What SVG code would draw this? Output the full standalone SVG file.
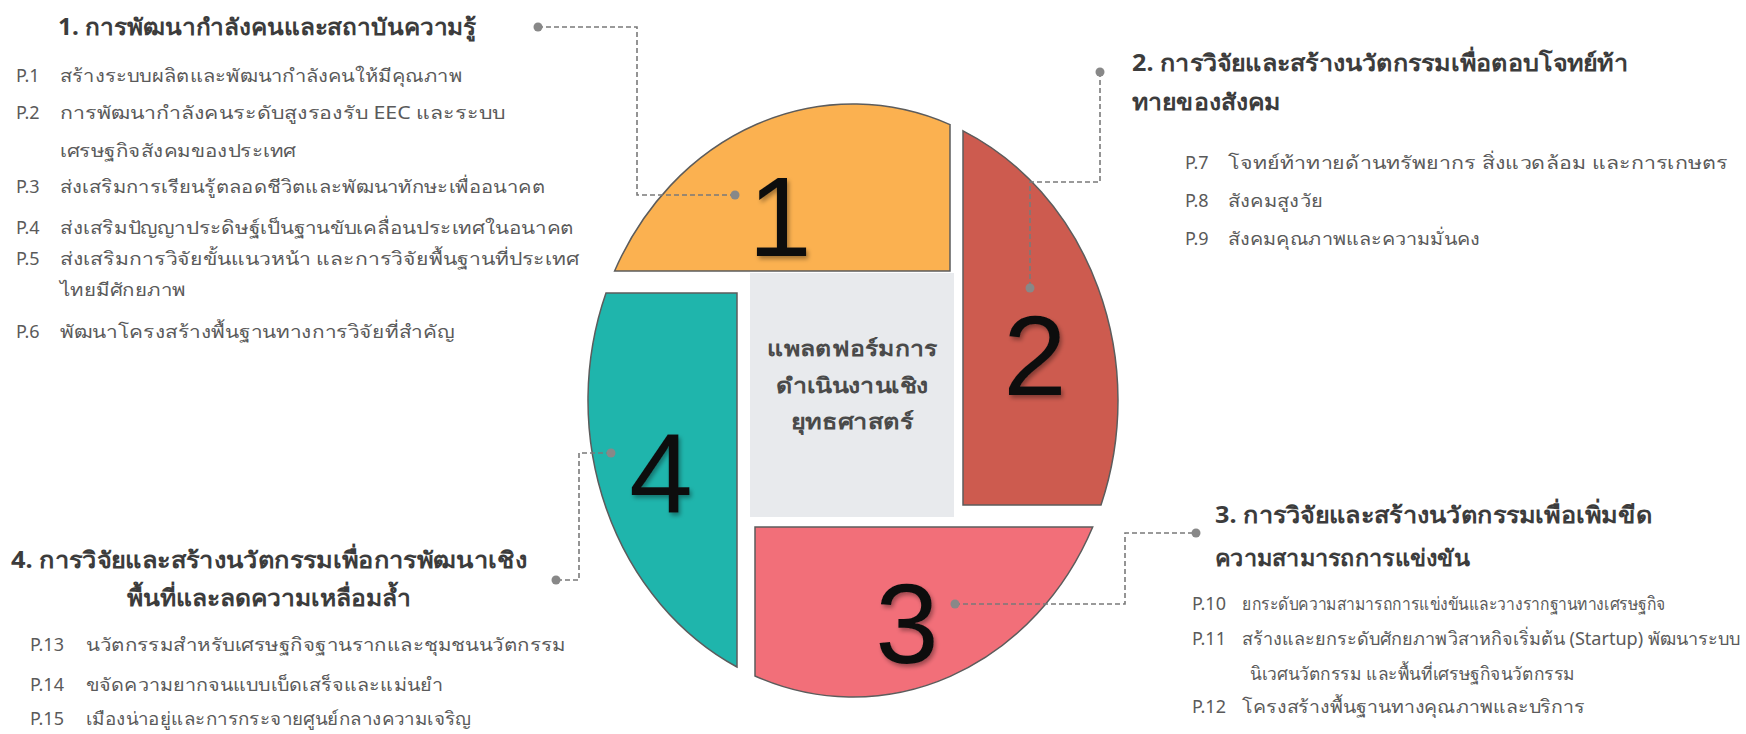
<svg xmlns="http://www.w3.org/2000/svg" width="1746" height="734" viewBox="0 0 1746 734">
<defs>
<style>
.t{font-family:"Noto Sans","DejaVu Sans",sans-serif;font-size:23px;font-weight:bold;fill:#3c3c3c}
.b{font-family:"Noto Sans","DejaVu Sans",sans-serif;font-size:18px;fill:#5a5a5a}
.c{font-family:"Noto Sans","DejaVu Sans",sans-serif;font-size:21px;font-weight:bold;fill:#4a4a4a;text-anchor:middle}
.n{font-family:"Liberation Sans",Arial,sans-serif;font-size:114px;fill:#111;text-anchor:middle;filter:url(#sh)}
.piece{stroke:#5c5c5c;stroke-width:1.5}
.conn{fill:none;stroke:#7a7a7a;stroke-width:1.6;stroke-dasharray:5 3}
.dot{fill:#888}
</style>
<filter id="sh" x="-20%" y="-20%" width="150%" height="150%">
<feDropShadow dx="2" dy="3" stdDeviation="2" flood-color="#000" flood-opacity="0.35"/>
</filter>
</defs>
<rect width="1746" height="734" fill="#fff"/>

<g id="node-center">
<rect x="750" y="273" width="204" height="244" fill="#e8eaed"/>
<text class="c" x="852" y="356" textLength="170" lengthAdjust="spacingAndGlyphs">แพลตฟอร์มการ</text>
<text class="c" x="852" y="393" textLength="152" lengthAdjust="spacingAndGlyphs">ดำเนินงานเชิง</text>
<text class="c" x="852" y="429" textLength="123" lengthAdjust="spacingAndGlyphs">ยุทธศาสตร์</text>
</g>

<g id="node-1">
<path class="piece" fill="#fbb150" d="M614.6 271 L950 271 L950 124.6 A265 296.5 0 0 0 614.6 271 Z"/>
<text class="n" x="780" y="256">1</text>
</g>
<g id="node-2">
<path class="piece" fill="#cd5b4f" d="M963 130.8 L963 505 L1101 505 A265 296.5 0 0 0 963 130.8 Z"/>
<text class="n" x="1035" y="395">2</text>
</g>
<g id="node-3">
<path class="piece" fill="#f26f79" d="M755 527 L1092.7 527 A265 296.5 0 0 1 755 676 Z"/>
<text class="n" x="907" y="663">3</text>
</g>
<g id="node-4">
<path class="piece" fill="#1fb5ac" d="M606 293 L737 293 L737 667 A265 296.5 0 0 1 606 293 Z"/>
<text class="n" x="661" y="513">4</text>
</g>

<g id="connectors">
<polyline class="conn" points="538,27 637,27 637,195 735,195"/>
<polyline class="conn" points="1100,72 1100,182 1030,182 1030,288"/>
<polyline class="conn" points="955,604 1125,604 1125,533 1196,533"/>
<polyline class="conn" points="611,453 579,453 579,580 556,580"/>
<circle class="dot" cx="538" cy="27" r="4.5"/>
<circle class="dot" cx="735" cy="195" r="4.5"/>
<circle class="dot" cx="1100" cy="72" r="4.5"/>
<circle class="dot" cx="1030" cy="288" r="4.5"/>
<circle class="dot" cx="955" cy="604" r="4.5"/>
<circle class="dot" cx="1196" cy="533" r="4.5"/>
<circle class="dot" cx="611" cy="453" r="4.5"/>
<circle class="dot" cx="556" cy="580" r="4.5"/>
</g>

<g id="text-1">
<text class="t" x="58" y="35" textLength="418" lengthAdjust="spacingAndGlyphs">1. การพัฒนากำลังคนและสถาบันความรู้</text>
<text class="b" y="82"><tspan x="16">P.1</tspan><tspan x="60" textLength="402" lengthAdjust="spacingAndGlyphs">สร้างระบบผลิตและพัฒนากำลังคนให้มีคุณภาพ</tspan></text>
<text class="b" y="119"><tspan x="16">P.2</tspan><tspan x="60" textLength="445" lengthAdjust="spacingAndGlyphs">การพัฒนากำลังคนระดับสูงรองรับ EEC และระบบ</tspan></text>
<text class="b" x="60" y="157" textLength="236" lengthAdjust="spacingAndGlyphs">เศรษฐกิจสังคมของประเทศ</text>
<text class="b" y="193"><tspan x="16">P.3</tspan><tspan x="60" textLength="485" lengthAdjust="spacingAndGlyphs">ส่งเสริมการเรียนรู้ตลอดชีวิตและพัฒนาทักษะเพื่ออนาคต</tspan></text>
<text class="b" y="234"><tspan x="16">P.4</tspan><tspan x="60" textLength="514" lengthAdjust="spacingAndGlyphs">ส่งเสริมปัญญาประดิษฐ์เป็นฐานขับเคลื่อนประเทศในอนาคต</tspan></text>
<text class="b" y="265"><tspan x="16">P.5</tspan><tspan x="60" textLength="519" lengthAdjust="spacingAndGlyphs">ส่งเสริมการวิจัยขั้นแนวหน้า และการวิจัยพื้นฐานที่ประเทศ</tspan></text>
<text class="b" x="60" y="296" textLength="126" lengthAdjust="spacingAndGlyphs">ไทยมีศักยภาพ</text>
<text class="b" y="338"><tspan x="16">P.6</tspan><tspan x="60" textLength="394" lengthAdjust="spacingAndGlyphs">พัฒนาโครงสร้างพื้นฐานทางการวิจัยที่สำคัญ</tspan></text>
</g>

<g id="text-2">
<text class="t" x="1132" y="71" textLength="496" lengthAdjust="spacingAndGlyphs">2. การวิจัยและสร้างนวัตกรรมเพื่อตอบโจทย์ท้า</text>
<text class="t" x="1132" y="110" textLength="148" lengthAdjust="spacingAndGlyphs">ทายของสังคม</text>
<text class="b" y="169"><tspan x="1185">P.7</tspan><tspan x="1228" textLength="500" lengthAdjust="spacingAndGlyphs">โจทย์ท้าทายด้านทรัพยากร สิ่งแวดล้อม และการเกษตร</tspan></text>
<text class="b" y="207"><tspan x="1185">P.8</tspan><tspan x="1228" textLength="95" lengthAdjust="spacingAndGlyphs">สังคมสูงวัย</tspan></text>
<text class="b" y="245"><tspan x="1185">P.9</tspan><tspan x="1228" textLength="252" lengthAdjust="spacingAndGlyphs">สังคมคุณภาพและความมั่นคง</tspan></text>
</g>

<g id="text-3">
<text class="t" x="1215" y="523" textLength="437" lengthAdjust="spacingAndGlyphs">3. การวิจัยและสร้างนวัตกรรมเพื่อเพิ่มขีด</text>
<text class="t" x="1215" y="566" textLength="255" lengthAdjust="spacingAndGlyphs">ความสามารถการแข่งขัน</text>
<text class="b" y="610"><tspan x="1192">P.10</tspan><tspan x="1242" textLength="424" lengthAdjust="spacingAndGlyphs">ยกระดับความสามารถการแข่งขันและวางรากฐานทางเศรษฐกิจ</tspan></text>
<text class="b" y="645"><tspan x="1192">P.11</tspan><tspan x="1242" textLength="498" lengthAdjust="spacingAndGlyphs">สร้างและยกระดับศักยภาพวิสาหกิจเริ่มต้น (Startup) พัฒนาระบบ</tspan></text>
<text class="b" x="1250" y="680" textLength="325" lengthAdjust="spacingAndGlyphs">นิเวศนวัตกรรม และพื้นที่เศรษฐกิจนวัตกรรม</text>
<text class="b" y="713"><tspan x="1192">P.12</tspan><tspan x="1242" textLength="343" lengthAdjust="spacingAndGlyphs">โครงสร้างพื้นฐานทางคุณภาพและบริการ</tspan></text>
</g>

<g id="text-4">
<text class="t" x="11" y="568" textLength="516" lengthAdjust="spacingAndGlyphs">4. การวิจัยและสร้างนวัตกรรมเพื่อการพัฒนาเชิง</text>
<text class="t" x="127" y="606" textLength="284" lengthAdjust="spacingAndGlyphs">พื้นที่และลดความเหลื่อมล้ำ</text>
<text class="b" y="651"><tspan x="30">P.13</tspan><tspan x="86" textLength="480" lengthAdjust="spacingAndGlyphs">นวัตกรรมสำหรับเศรษฐกิจฐานรากและชุมชนนวัตกรรม</tspan></text>
<text class="b" y="691"><tspan x="30">P.14</tspan><tspan x="86" textLength="357" lengthAdjust="spacingAndGlyphs">ขจัดความยากจนแบบเบ็ดเสร็จและแม่นยำ</tspan></text>
<text class="b" y="725"><tspan x="30">P.15</tspan><tspan x="86" textLength="385" lengthAdjust="spacingAndGlyphs">เมืองน่าอยู่และการกระจายศูนย์กลางความเจริญ</tspan></text>
</g>
</svg>
